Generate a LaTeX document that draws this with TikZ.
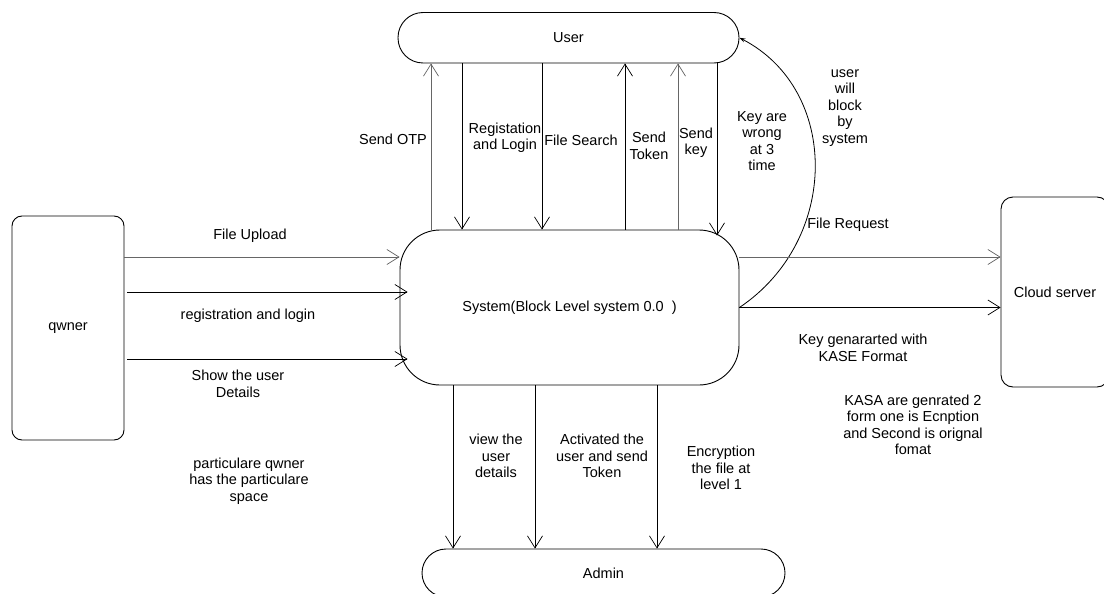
\documentclass[tikz,border=0pt]{standalone}
\usepackage{fontspec}
\setmainfont{Liberation Sans}
\usetikzlibrary{arrows.meta}
\tikzset{
  box/.style={draw, line width=0.9pt, align=center, inner sep=0pt, font=\fontsize{14.5}{16.5}\selectfont},
  lbl/.style={align=center, inner sep=0pt, font=\fontsize{14.5}{16.5}\selectfont},
  arr/.style={line width=0.9pt, -{Straight Barb[length=12pt,width=15pt,line width=0.7pt]}},
  faint/.style={draw=black!60, line width=0.6pt}
}
\begin{document}
\begin{tikzpicture}[x=1pt,y=-1pt]
\useasboundingbox (0,0) rectangle (1104,594);
\fill[white] (0,0) rectangle (1104,594);
\clip (0,0) rectangle (1104,594);
% shapes
\node[box, rounded corners=25pt, minimum width=341pt, minimum height=50.5pt] (user) at (568.5,37.75) {User};
\node[box, rounded corners=40pt, minimum width=339pt, minimum height=155pt] (sys) at (569.5,307.5) {System(Block Level system 0.0\ \ )};
\node[box, rounded corners=10pt, minimum width=112pt, minimum height=224pt] (own) at (68,328) {qwner};
\node[box, rounded corners=12pt, minimum width=108pt, minimum height=190pt] (cloud) at (1055,292) {Cloud server};
\node[box, rounded corners=24pt, minimum width=363pt, minimum height=48pt] (admin) at (603.5,573) {Admin};
% x positions
\coordinate (a1) at (431,0);
\coordinate (a2) at (462,0);
\coordinate (a3) at (542,0);
\coordinate (a4) at (625,0);
\coordinate (a5) at (678,0);
\coordinate (a6) at (717,0);
\coordinate (b1) at (453,0);
\coordinate (b2) at (535,0);
\coordinate (b3) at (657,0);
\coordinate (h1) at (0,257);
\coordinate (h2) at (0,292);
\coordinate (h3) at (0,359);
% user <-> system
\draw[arr, faint] (sys.north -| a1) -- (user.south -| a1);
\draw[arr] (user.south -| a2) -- (sys.north -| a2);
\draw[arr] (user.south -| a3) -- (sys.north -| a3);
\draw[arr] (sys.north -| a4) -- (user.south -| a4);
\draw[arr, faint] (sys.north -| a5) -- (user.south -| a5);
\draw[arr] (user.south -| a6) -- ([yshift=-6pt]sys.north -| a6);
% blocking curve
\draw[line width=0.8pt, -{Stealth[length=6pt,width=4pt]}] (sys.east) .. controls (840,240) and (840,90) .. (user.east);
% owner -> system
\draw[arr, faint] (own.east |- h1) -- (sys.west |- h1);
\draw[arr] ([xshift=3pt]own.east |- h2) -- ([xshift=8pt]sys.west |- h2);
\draw[arr] ([xshift=3pt]own.east |- h3) -- ([xshift=8pt]sys.west |- h3);
% system -> cloud
\draw[arr, faint] (sys.east |- h1) -- (cloud.west |- h1);
\draw[arr] (sys.east) -- (sys.east -| cloud.west);
% system -> admin
\draw[arr] (sys.south -| b1) -- (admin.north -| b1);
\draw[arr] (sys.south -| b2) -- (admin.north -| b2);
\draw[arr] (sys.south -| b3) -- (admin.north -| b3);
% labels
\node[lbl] (t1) at (393,139) {Send OTP};
\node[lbl] (t2) at (505,138) {Registation\\and Login};
\node[lbl] (t3) at (581,140) {File Search};
\node[lbl] (t4) at (649,146) {Send\\Token};
\node[lbl] (t5) at (696,143) {Send\\key};
\node[lbl] (t6) at (762,141) {Key are\\wrong\\at 3\\time};
\node[lbl] (t7) at (845,108) {user\\will\\block\\by\\system};
\node[lbl] (t8) at (250,236) {File Upload};
\node[lbl] (t9) at (248,316) {registration and login};
\node[lbl] (t10) at (238,384) {Show the user\\Details};
\node[lbl] (t11) at (249,481) {particulare qwner\\has the particulare\\space};
\node[lbl] (t12) at (848,225) {File Request};
\node[lbl] (t13) at (863,348) {Key genararted with\\KASE Format};
\node[lbl] (t14) at (913,425) {KASA are genrated 2\\form one is Ecnption\\and Second is orignal\\fomat};
\node[lbl] (t15) at (496,456) {view the\\user\\details};
\node[lbl] (t16) at (602,456) {Activated the\\user and send\\Token};
\node[lbl] (t17) at (721,468) {Encryption\\the file at\\level 1};
\end{tikzpicture}
\end{document}
